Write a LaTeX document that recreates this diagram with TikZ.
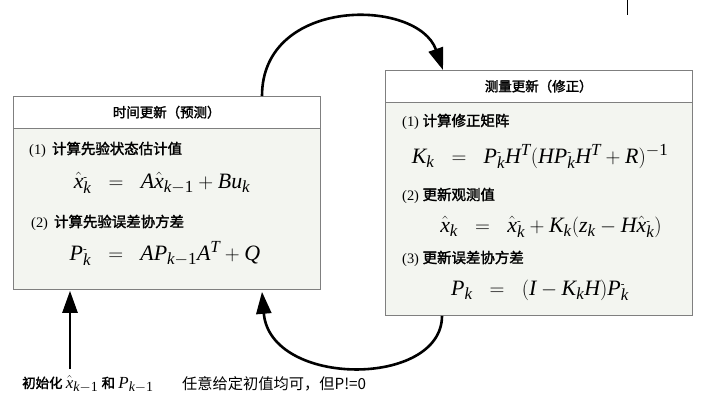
\documentclass[tikz,border=0pt]{standalone}
\usepackage{mathspec}
\setmainfont{Liberation Serif}
\setmathsfont(Digits,Latin){Liberation Serif}
\newfontfamily\cjk{Noto Sans CJK SC}
\newfontfamily\cjkb{Noto Sans CJK SC}[FakeBold=2]
\DeclareMathSizes{22}{22}{17}{13}
\DeclareMathSizes{17}{17}{14}{11}
\usetikzlibrary{arrows.meta,calc}
\definecolor{bodyfill}{HTML}{F3F5F0}
\definecolor{edge}{HTML}{7F7F7F}
\tikzset{
  hdr/.style={draw=edge, fill=white, anchor=north west, minimum height=32bp, inner sep=0pt, font=\fontsize{13.5}{15}\selectfont\cjkb},
  bodybox/.style={draw=edge, fill=bodyfill, anchor=north west, inner sep=0pt},
  item/.style={anchor=base west, inner sep=0pt, font=\fontsize{14.5}{16}\selectfont},
  formula/.style={anchor=base, inner sep=0pt, font=\fontsize{22}{24}\selectfont},
  arr/.style={line width=2.6bp, -{Triangle[length=22bp,width=15bp]}},
  note/.style={anchor=base west, inner sep=0pt},
}
\newcommand{\cn}[1]{{\cjkb #1}}
\newcommand{\mminus}{\mbox{\fontsize{11}{11}\selectfont -}}
\begin{document}
\begin{tikzpicture}[x=1bp,y=-1bp]
\useasboundingbox (0,0) rectangle (713,402);
% left box
\node[hdr, minimum width=307bp] (Lh) at (13,96) {时间更新（预测）};
\node[bodybox, minimum width=307bp, minimum height=161bp] (Lb) at (Lh.south west) {};
\node[item] (L1) at (29,154) {(1)\, \cn{计算先验状态估计值}};
\node[formula] (L1f) at (162,188) {$\hat{x}_k^{\mminus} \;\;=\;\; A\hat{x}_{k-1} + Bu_k$};
\node[item] (L2) at (31,227) {(2)\, \cn{计算先验误差协方差}};
\node[formula] (L2f) at (165,260) {$P_k^{\mminus} \;\;=\;\; AP_{k-1}A^T + Q$};
% right box
\node[hdr, minimum width=307bp] (Rh) at (385,70) {测量更新（修正）};
\node[bodybox, minimum width=307bp, minimum height=213bp] (Rb) at (Rh.south west) {};
\node[item] (R1) at (402,126) {(1) \cn{计算修正矩阵}};
\node[formula] (R1f) at (540,163) {$K_k \;\;=\;\; P_k^{\mminus}H^T(HP_k^{\mminus}H^T + R)^{-1}$};
\node[item] (R2) at (402,200) {(2) \cn{更新观测值}};
\node[formula] (R2f) at (551,232) {$\hat{x}_k \;\;=\;\; \hat{x}_k^{\mminus} + K_k(z_k - H\hat{x}_k^{\mminus})$};
\node[item] (R3) at (402,263) {(3) \cn{更新误差协方差}};
\node[formula] (R3f) at (540,295) {$P_k \;\;=\;\; (I - K_kH)P_k^{\mminus}$};
% initial note
\node[note, font=\fontsize{13.5}{17}\selectfont] (init) at (22,388) {\cn{初始化} {\fontsize{17}{19}\selectfont$\hat{x}_{k-1}$} \cn{和} {\fontsize{17}{19}\selectfont$P_{k-1}$}};
\node[note, font=\fontsize{15.3}{18}\selectfont\cjk] (hint) at (182,389) {任意给定初值均可，但P!=0};
% connectors
\coordinate (t1) at ($(Lh.north west)+(249,0)$);
\coordinate (t2) at ($(Rh.north west)+(58,0)$);
\draw[arr] (t1) .. controls ($(t1)+(0,-100)$) and ($(t2)+(-25,-72)$) .. (t2);
\coordinate (b1) at ($(Rb.south west)+(57,0)$);
\coordinate (b2) at ($(Lb.south west)+(249,2)$);
\draw[arr] (b1) .. controls ($(b1)+(0,72)$) and ($(b2)+(8,96)$) .. (b2);
\coordinate (i1) at (70,369);
\coordinate (i2) at ($(Lb.south west)+(57,1)$);
\draw[arr] (i1) -- (i2);
\coordinate (m1) at (627,0);
\coordinate (m2) at (627,15);
\draw[line width=0.8bp] (m1) -- (m2);
\end{tikzpicture}
\end{document}
